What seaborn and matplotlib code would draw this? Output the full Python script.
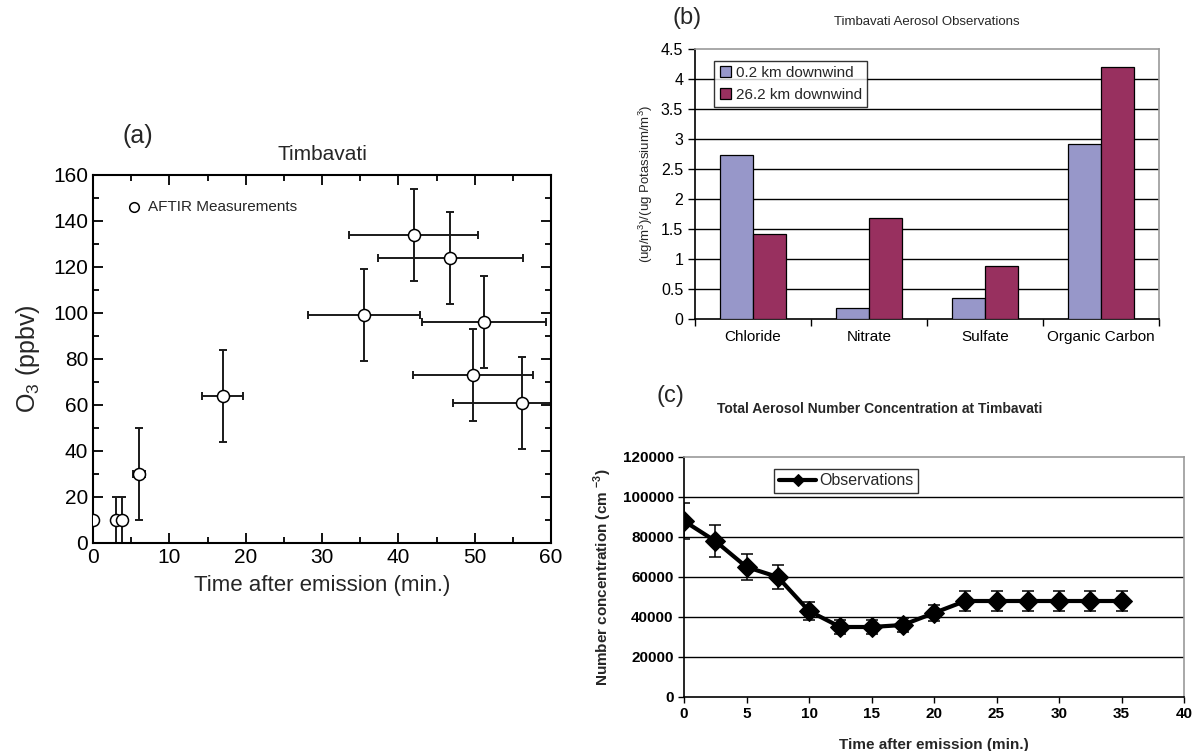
import numpy as np
import pandas as pd
import matplotlib
matplotlib.use("Agg")
import matplotlib.pyplot as plt
import seaborn as sns
from matplotlib.ticker import MultipleLocator, FuncFormatter

# ---------------- data ----------------
# (a) AFTIR ozone measurements
o3_time = [0.0, 3.0, 3.8, 6.0, 17.0, 35.5, 42.0, 46.8, 51.2, 49.8, 56.2]
o3_val = [10, 10, 10, 30, 64, 99, 134, 124, 96, 73, 61]
o3_time_err = [0.0, 0.0, 0.6, 0.8, 2.7, 7.3, 8.5, 9.5, 8.1, 7.9, 9.0]
o3_val_err = [0, 10, 10, 20, 20, 20, 20, 20, 20, 20, 20]

# (b) aerosol observations
species = ["Chloride", "Nitrate", "Sulfate", "Organic Carbon"]
near_vals = [2.73, 0.19, 0.35, 2.91]
far_vals = [1.41, 1.68, 0.88, 4.20]
series_names = ["0.2 km downwind", "26.2 km downwind"]

# (c) total aerosol number concentration
nc_time = [0, 2.5, 5, 7.5, 10, 12.5, 15, 17.5, 20, 22.5, 25, 27.5, 30, 32.5, 35]
nc_val = [88000, 78000, 65000, 60000, 43000, 35000, 35000, 36000, 42000,
          48000, 48000, 48000, 48000, 48000, 48000]
nc_err = [8800, 7800, 6500, 6000, 4300, 3500, 3500, 3600, 4200,
          4800, 4800, 4800, 4800, 4800, 4800]

# ---------------- style ----------------
sns.set_theme(style="white")
plt.rcParams["font.family"] = ["Liberation Sans", "DejaVu Sans"]
plt.rcParams["mathtext.fontset"] = "custom"
plt.rcParams["mathtext.rm"] = "Liberation Sans"
plt.rcParams["mathtext.bf"] = "Liberation Sans:bold"

fig = plt.figure(figsize=(11.95, 7.51), dpi=100)

# ================= panel (a) =================
axa = fig.add_axes([93/1195, 1-543/751, 458/1195, 368/751])
dfa = pd.DataFrame({"t": o3_time, "o3": o3_val})
axa.errorbar(o3_time, o3_val, xerr=o3_time_err, yerr=o3_val_err, fmt="none",
             ecolor="#1a1a1a", elinewidth=1.4, capsize=3, capthick=1.4, zorder=2)
sns.scatterplot(data=dfa, x="t", y="o3", ax=axa, marker="o", s=75,
                facecolor="white", edgecolor="black", linewidth=1.1, zorder=3,
                label="AFTIR Measurements")
axa.set_xlim(0, 60)
axa.set_ylim(0, 160)
axa.xaxis.set_major_locator(MultipleLocator(10))
axa.xaxis.set_minor_locator(MultipleLocator(5))
axa.yaxis.set_major_locator(MultipleLocator(20))
axa.yaxis.set_minor_locator(MultipleLocator(10))
axa.tick_params(which="both", direction="in", top=True, right=True,
                bottom=True, left=True, labelsize=15, colors="black")
axa.tick_params(which="major", length=7, width=1.3)
axa.tick_params(which="minor", length=4, width=1.3)
for s in axa.spines.values():
    s.set_color("black")
    s.set_linewidth(1.5)
axa.set_xlabel("Time after emission (min.)", fontsize=16, labelpad=6)
axa.set_ylabel("O$_3$ (ppbv)", fontsize=18, labelpad=8)
axa.set_title("Timbavati", fontsize=15, pad=11)
leg = axa.legend(loc="upper left", bbox_to_anchor=(0.04, 0.97), frameon=False,
                 fontsize=11, handletextpad=0.3, handlelength=1.2,
                 markerscale=0.8)
fig.text(138/1195, 1-136/751, "(a)", fontsize=18, ha="center", va="center")

# ================= panel (b) =================
axb = fig.add_axes([695/1195, 1-319/751, 464/1195, 270/751])
dfb = pd.DataFrame({
    "species": species * 2,
    "value": near_vals + far_vals,
    "series": [series_names[0]] * 4 + [series_names[1]] * 4,
})
pal = {series_names[0]: "#9797C9", series_names[1]: "#98305F"}
sns.barplot(data=dfb, x="species", y="value", hue="series", palette=pal,
            ax=axb, width=0.57, gap=0, edgecolor="black", linewidth=0.9,
            saturation=1, zorder=3)
axb.set_ylim(0, 4.5)
axb.set_xlim(-0.5, 3.5)
axb.yaxis.set_major_locator(MultipleLocator(0.5))
axb.yaxis.set_major_formatter(FuncFormatter(lambda v, p: f"{v:g}"))
for yv in np.arange(0.5, 4.5, 0.5):
    axb.axhline(yv, color="black", lw=1.0, zorder=1)
axb.set_xticks([-0.5, 0.5, 1.5, 2.5, 3.5])
axb.set_xticklabels([])
axb.set_xticks(range(4), minor=True)
axb.set_xticklabels(species, minor=True)
axb.tick_params(axis="x", which="major", direction="out", length=5, width=1,
                bottom=True, colors="black")
axb.tick_params(axis="x", which="minor", length=0, labelsize=11, pad=8,
                colors="black")
axb.tick_params(axis="y", direction="out", length=5, width=1, left=True,
                labelsize=11.5, colors="black")
axb.spines["left"].set_color("black")
axb.spines["bottom"].set_color("black")
axb.spines["top"].set_color("#999999")
axb.spines["right"].set_color("#999999")
for s in axb.spines.values():
    s.set_linewidth(1.2)
axb.set_xlabel("")
axb.set_ylabel("(ug/m$^3$)/(ug Potassium/m$^3$)", fontsize=9.5, labelpad=4)
axb.legend(loc="upper left", bbox_to_anchor=(0.025, 0.985), frameon=True,
           fancybox=False, edgecolor="black", fontsize=11,
           handlelength=0.75, handleheight=0.75, handletextpad=0.3,
           borderpad=0.35, labelspacing=0.5, title=None).get_frame().set_linewidth(1.0)
fig.text(927/1195, 1-22/751, "Timbavati Aerosol Observations", fontsize=9.5,
         ha="center", va="center")
fig.text(687/1195, 1-18/751, "(b)", fontsize=17, ha="center", va="center")

# ================= panel (c) =================
axc = fig.add_axes([684/1195, 1-697/751, 500/1195, 240/751])
dfc = pd.DataFrame({"t": nc_time, "n": nc_val})
for yv in np.arange(20000, 120000, 20000):
    axc.axhline(yv, color="black", lw=1.0, zorder=1)
axc.errorbar(nc_time, nc_val, yerr=nc_err, fmt="none", ecolor="black",
             elinewidth=1.1, capsize=4, capthick=1.1, zorder=2)
sns.lineplot(data=dfc, x="t", y="n", ax=axc, color="black", lw=3,
             marker="D", markersize=10, markeredgecolor="black",
             label="Observations", zorder=3)
axc.set_xlim(0, 40)
axc.set_ylim(0, 120000)
axc.xaxis.set_major_locator(MultipleLocator(5))
axc.yaxis.set_major_locator(MultipleLocator(20000))
axc.tick_params(axis="both", direction="out", length=4, width=1,
                bottom=True, left=True, labelsize=11, colors="black")
for lab in axc.get_xticklabels() + axc.get_yticklabels():
    lab.set_fontweight("bold")
axc.spines["left"].set_color("black")
axc.spines["bottom"].set_color("black")
axc.spines["top"].set_color("#999999")
axc.spines["right"].set_color("#999999")
for s in axc.spines.values():
    s.set_linewidth(1.2)
axc.set_xlabel("Time after emission (min.)", fontsize=11, fontweight="bold",
               labelpad=12)
axc.set_ylabel(r"Number concentration (cm $^{\mathbf{-3}}$)", fontsize=11,
               fontweight="bold", labelpad=6)
lg = axc.legend(loc="upper left", bbox_to_anchor=(0.165, 0.985), frameon=True,
                fancybox=False, edgecolor="black", fontsize=11.5,
                handlelength=2.3, borderpad=0.3, handletextpad=0.2,
                markerscale=0.6)
lg.get_frame().set_linewidth(1.0)
fig.text(880/1195, 1-409/751, "Total Aerosol Number Concentration at Timbavati",
         fontsize=10, fontweight="bold", ha="center", va="center")
fig.text(670/1195, 1-396/751, "(c)", fontsize=17, ha="center", va="center")

fig.savefig("out.png", dpi=100)
